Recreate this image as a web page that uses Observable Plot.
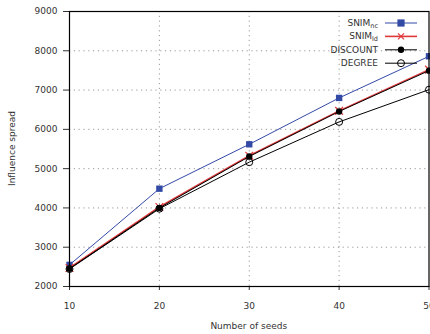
<!DOCTYPE html>
<html>
<head>
<meta charset="utf-8">
<script src="https://cdn.jsdelivr.net/npm/d3@7"></script>
<script src="https://cdn.jsdelivr.net/npm/@observablehq/plot@0.6"></script>
<style>
  html, body { margin: 0; padding: 0; background: #fff; }
  #chart svg { display: block; }
</style>
</head>
<body>
<div id="chart"></div>
<script>
const seeds = [10, 20, 30, 40, 50];
const snimNc = [2550, 4490, 5620, 6800, 7860];
const snimLd = [2470, 4025, 5330, 6470, 7520];
const discount = [2455, 4000, 5310, 6455, 7495];
const degree = [2445, 3980, 5165, 6190, 7010];
const yTicks = [2000, 3000, 4000, 5000, 6000, 7000, 8000, 9000];
const yGrid = [3000, 4000, 5000, 6000, 7000, 8000];
const xGrid = [20, 30, 40];

const seriesNames = ["SNIM_nc", "SNIM_ld", "DISCOUNT", "DEGREE"];
const seriesValues = [snimNc, snimLd, discount, degree];
const rows = [];
seriesNames.forEach((name, i) => seeds.forEach((s, j) => rows.push({series: name, seeds: s, value: seriesValues[i][j]})));
const pick = name => rows.filter(r => r.series === name);

const blue = "#3349a6";
const red = "#e0393b";
const black = "#000";
const font = "DejaVu Sans, sans-serif";

const W = 430, H = 334, ML = 69, MR = 1.5, MT = 11, MB = 48;

const chart = Plot.plot({
  width: W,
  height: H,
  marginLeft: ML,
  marginRight: MR,
  marginTop: MT,
  marginBottom: MB,
  style: {fontFamily: font, fontSize: "9px", color: "#333", background: "#fff", overflow: "visible"},
  x: {domain: [10, 50], ticks: seeds, tickSize: 4, tickPadding: 12, label: null, tickFormat: d => String(d)},
  y: {domain: [2000, 9000], ticks: yTicks, tickSize: 6, tickPadding: 6, label: null, tickFormat: d => String(d)},
  marks: [
    Plot.ruleY(yGrid, {stroke: "#9a9a9a", strokeWidth: 1, strokeDasharray: "1.2,3.6"}),
    Plot.ruleX(xGrid, {stroke: "#9a9a9a", strokeWidth: 1, strokeDasharray: "1.2,3.6"}),
    Plot.line(pick("SNIM_nc"), {x: "seeds", y: "value", stroke: blue, strokeWidth: 1}),
    Plot.dot(pick("SNIM_nc"), {x: "seeds", y: "value", symbol: "square", r: 3.6, fill: blue, stroke: "none"}),
    Plot.line(pick("SNIM_ld"), {x: "seeds", y: "value", stroke: red, strokeWidth: 1.6}),
    Plot.dot(pick("SNIM_ld"), {x: "seeds", y: "value", symbol: "times", r: 3.6, stroke: red, strokeWidth: 1.2}),
    Plot.line(pick("DISCOUNT"), {x: "seeds", y: "value", stroke: black, strokeWidth: 1}),
    Plot.dot(pick("DISCOUNT"), {x: "seeds", y: "value", r: 3.2, fill: black, stroke: "none"}),
    Plot.line(pick("DEGREE"), {x: "seeds", y: "value", stroke: black, strokeWidth: 1}),
    Plot.dot(pick("DEGREE"), {x: "seeds", y: "value", r: 3.5, fill: "none", stroke: black, strokeWidth: 1}),
    Plot.frame({stroke: black, strokeWidth: 1.2})
  ]
});
document.getElementById("chart").appendChild(chart);

const svg = d3.select(chart);
// axis titles
svg.append("text")
  .attr("x", (ML + W - MR) / 2).attr("y", 326)
  .attr("text-anchor", "middle").attr("dominant-baseline", "middle")
  .attr("fill", "#333").style("font-family", font).style("font-size", "9px")
  .text("Number of seeds");
svg.append("text")
  .attr("transform", `translate(12,${(MT + H - MB) / 2}) rotate(-90)`)
  .attr("text-anchor", "middle").attr("dominant-baseline", "middle")
  .attr("fill", "#333").style("font-family", font).style("font-size", "9px")
  .text("Influence spread");

// legend
const legend = [
  {base: "SNIM", sub: "nc", color: blue, lw: 1, sym: "square"},
  {base: "SNIM", sub: "ld", color: red, lw: 1.6, sym: "times"},
  {base: "DISCOUNT", sub: null, color: black, lw: 1, sym: "dot"},
  {base: "DEGREE", sub: null, color: black, lw: 1, sym: "circle"}
];
const lg = svg.append("g");
legend.forEach((d, i) => {
  const y = 23 + i * 13.4;
  const t = lg.append("text").attr("x", 378).attr("y", y)
    .attr("text-anchor", "end").attr("dominant-baseline", "middle")
    .attr("fill", "#333").style("font-family", font).style("font-size", "9px");
  t.append("tspan").text(d.base);
  if (d.sub) t.append("tspan").attr("dy", 3).style("font-size", "6.5px").text(d.sub);
  lg.append("line").attr("x1", 385).attr("x2", 417).attr("y1", y).attr("y2", y)
    .attr("stroke", d.color).attr("stroke-width", d.lw);
  const cx = 401;
  if (d.sym === "square") lg.append("rect").attr("x", cx - 3.6).attr("y", y - 3.6).attr("width", 7.2).attr("height", 7.2).attr("fill", d.color);
  else if (d.sym === "times") lg.append("path").attr("d", `M${cx-3},${y-3}L${cx+3},${y+3}M${cx-3},${y+3}L${cx+3},${y-3}`).attr("stroke", d.color).attr("stroke-width", 1.2);
  else if (d.sym === "dot") lg.append("circle").attr("cx", cx).attr("cy", y).attr("r", 3.2).attr("fill", d.color);
  else lg.append("circle").attr("cx", cx).attr("cy", y).attr("r", 3.5).attr("fill", "none").attr("stroke", d.color);
});
</script>
</body>
</html>
